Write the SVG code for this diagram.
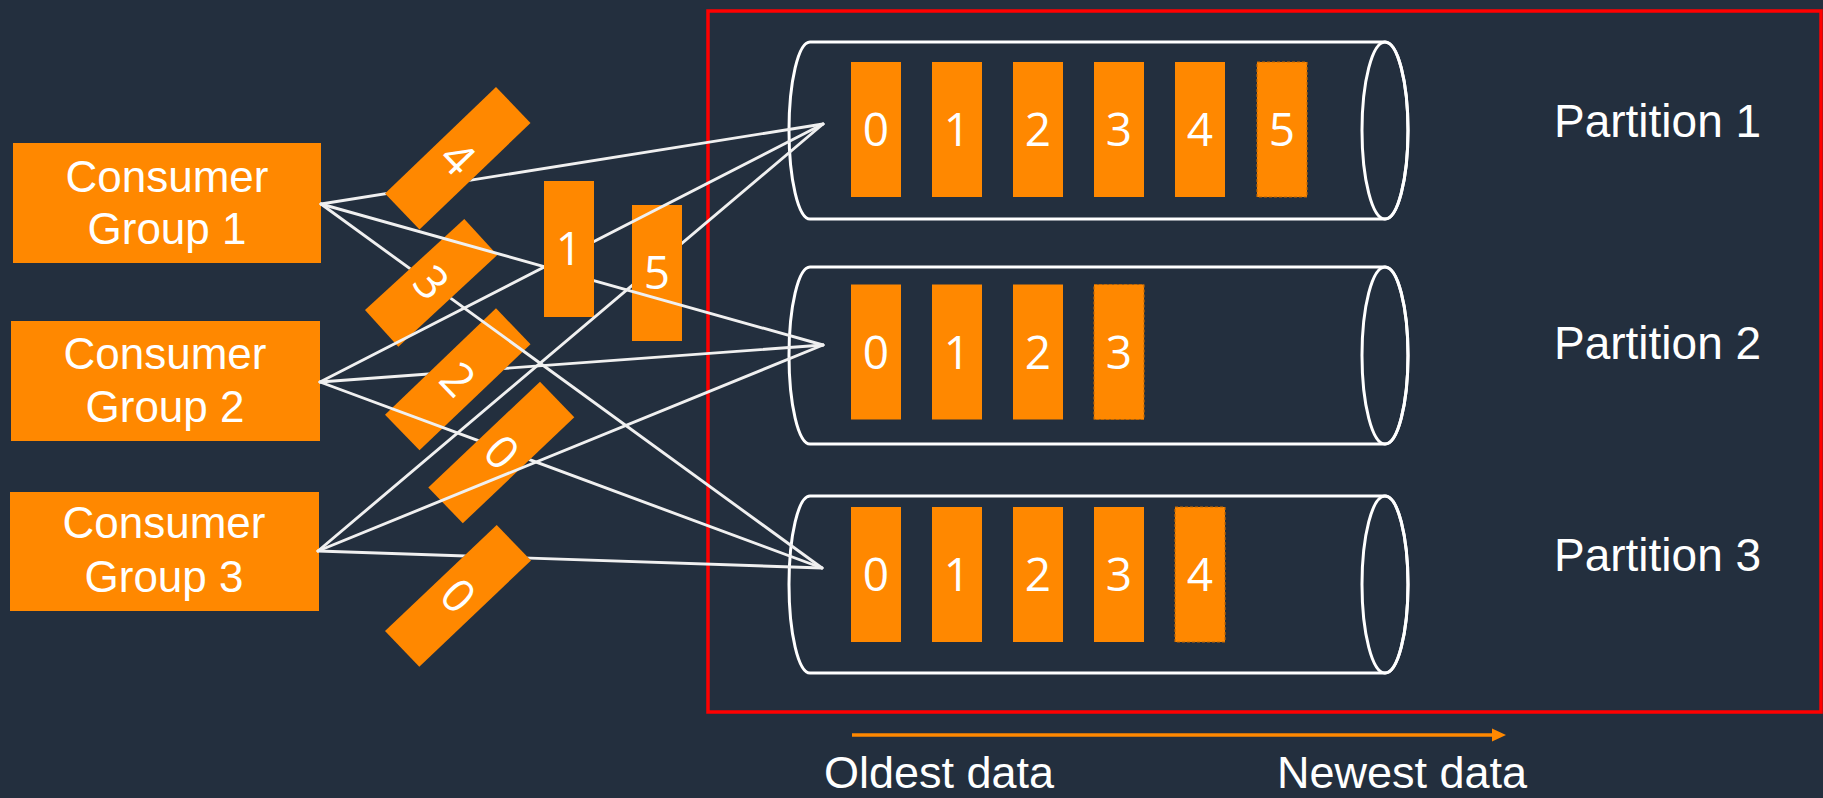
<svg xmlns="http://www.w3.org/2000/svg" width="1823" height="798" viewBox="0 0 1823 798">
<style>
.or{fill:#ff8800}
.nw{fill:#ff8800;stroke:#c46800;stroke-width:1.2;stroke-dasharray:3 2}
.cyl{fill:none;stroke:#ffffff;stroke-width:3}
.ln{stroke:#f0f0f0;stroke-width:2.9;fill:none;stroke-linecap:round}
.t{fill:#ffffff}
.w{font-family:"Liberation Sans",Arial,sans-serif}
.p{font-size:46px}
.b{font-size:45px}
.d{font-family:"Open Sans","Liberation Sans",sans-serif;font-size:46px;text-anchor:middle}
.c{font-family:"Liberation Sans",Arial,sans-serif;font-size:44px;text-anchor:middle}
</style>
<defs>
<mask id="mB4" maskUnits="userSpaceOnUse" x="0" y="0" width="1823" height="798"><rect width="1823" height="798" fill="#fff"/><polygon points="496,87 530.5,123 419.5,229.5 385,193.5" fill="#000"/></mask>
<mask id="mB3" maskUnits="userSpaceOnUse" x="0" y="0" width="1823" height="798"><rect width="1823" height="798" fill="#fff"/><polygon points="464.3,219 497.3,255 398.3,346.7 365,310" fill="#000"/></mask>
<mask id="mB2" maskUnits="userSpaceOnUse" x="0" y="0" width="1823" height="798"><rect width="1823" height="798" fill="#fff"/><polygon points="496,308.3 530.5,344.3 419.5,450.3 385,414.8" fill="#000"/></mask>
<mask id="mB0a" maskUnits="userSpaceOnUse" x="0" y="0" width="1823" height="798"><rect width="1823" height="798" fill="#fff"/><polygon points="540,381.7 574.3,417.3 462.8,523.3 428.3,487.4" fill="#000"/></mask>
<mask id="mB0b" maskUnits="userSpaceOnUse" x="0" y="0" width="1823" height="798"><rect width="1823" height="798" fill="#fff"/><polygon points="496.7,525 531,560.5 419.3,666.7 385,631" fill="#000"/></mask>
<mask id="mB1" maskUnits="userSpaceOnUse" x="0" y="0" width="1823" height="798"><rect width="1823" height="798" fill="#fff"/><rect x="544" y="181" width="50" height="136" fill="#000"/></mask>
<mask id="mB5" maskUnits="userSpaceOnUse" x="0" y="0" width="1823" height="798"><rect width="1823" height="798" fill="#fff"/><rect x="632" y="205" width="50" height="136" fill="#000"/></mask>
</defs>
<rect width="1823" height="798" fill="#232f3e"/>

<g id="stream-frame">
<rect x="708" y="11" width="1113" height="701" fill="none" stroke="#ff0000" stroke-width="3.5"/>
</g>

<g id="partition-1">
<path class="cyl" d="M810,42 H1385 A23,88.5 0 0 1 1385,219 H810 A21,88.5 0 0 1 810,42 Z"/>
<ellipse class="cyl" cx="1385" cy="130.5" rx="23" ry="88.5"/>
<rect class="or" x="851" y="62" width="50" height="135"/>
<rect class="or" x="932" y="62" width="50" height="135"/>
<rect class="or" x="1013" y="62" width="50" height="135"/>
<rect class="or" x="1094" y="62" width="50" height="135"/>
<rect class="or" x="1175" y="62" width="50" height="135"/>
<rect class="nw" x="1257" y="62" width="50" height="135"/>
<text class="t d" x="876" y="146">0</text>
<text class="t d" x="957" y="146">1</text>
<text class="t d" x="1038" y="146">2</text>
<text class="t d" x="1119" y="146">3</text>
<text class="t d" x="1200" y="146">4</text>
<text class="t d" x="1282" y="146">5</text>
<text class="t w p" x="1554" y="137">Partition 1</text>
</g>

<g id="partition-2">
<path class="cyl" d="M810,267 H1385 A23,88.5 0 0 1 1385,444 H810 A21,88.5 0 0 1 810,267 Z"/>
<ellipse class="cyl" cx="1385" cy="355.5" rx="23" ry="88.5"/>
<rect class="or" x="851" y="284.5" width="50" height="135"/>
<rect class="or" x="932" y="284.5" width="50" height="135"/>
<rect class="or" x="1013" y="284.5" width="50" height="135"/>
<rect class="nw" x="1094" y="284.5" width="50" height="135"/>
<text class="t d" x="876" y="368.5">0</text>
<text class="t d" x="957" y="368.5">1</text>
<text class="t d" x="1038" y="368.5">2</text>
<text class="t d" x="1119" y="368.5">3</text>
<text class="t w p" x="1554" y="359">Partition 2</text>
</g>

<g id="partition-3">
<path class="cyl" d="M810,496 H1385 A23,88.5 0 0 1 1385,673 H810 A21,88.5 0 0 1 810,496 Z"/>
<ellipse class="cyl" cx="1385" cy="584.5" rx="23" ry="88.5"/>
<rect class="or" x="851" y="507" width="50" height="135"/>
<rect class="or" x="932" y="507" width="50" height="135"/>
<rect class="or" x="1013" y="507" width="50" height="135"/>
<rect class="or" x="1094" y="507" width="50" height="135"/>
<rect class="nw" x="1175" y="507" width="50" height="135"/>
<text class="t d" x="876" y="591">0</text>
<text class="t d" x="957" y="591">1</text>
<text class="t d" x="1038" y="591">2</text>
<text class="t d" x="1119" y="591">3</text>
<text class="t d" x="1200" y="591">4</text>
<text class="t w p" x="1554" y="571">Partition 3</text>
</g>

<g id="consumer-group-1">
<rect class="or" x="13" y="143" width="308" height="120"/>
<text class="t c" x="167" y="192">Consumer</text>
<text class="t c" x="167" y="244">Group 1</text>
</g>
<g id="consumer-group-2">
<rect class="or" x="11" y="321" width="309" height="120"/>
<text class="t c" x="165" y="369">Consumer</text>
<text class="t c" x="165" y="422">Group 2</text>
</g>
<g id="consumer-group-3">
<rect class="or" x="10" y="492" width="309" height="119"/>
<text class="t c" x="164" y="538">Consumer</text>
<text class="t c" x="164" y="592">Group 3</text>
</g>

<g id="offset-4">
<polygon class="or" points="496,87 530.5,123 419.5,229.5 385,193.5"/>
<text class="t d" x="457.75" y="174.25" transform="rotate(46.2 457.75 158.25)">4</text>
</g>
<g id="offset-3">
<polygon class="or" points="464.3,219 497.3,255 398.3,346.7 365,310"/>
<text class="t d" x="431.2" y="298.7" transform="rotate(47 431.2 282.7)">3</text>
</g>
<g id="offset-2">
<polygon class="or" points="496,308.3 530.5,344.3 419.5,450.3 385,414.8"/>
<text class="t d" x="457.75" y="395.4" transform="rotate(46.2 457.75 379.4)">2</text>
</g>
<g id="offset-0a">
<polygon class="or" points="540,381.7 574.3,417.3 462.8,523.3 428.3,487.4"/>
<text class="t d" x="501.35" y="468.4" transform="rotate(46.2 501.35 452.4)">0</text>
</g>
<g id="offset-0b">
<polygon class="or" points="496.7,525 531,560.5 419.3,666.7 385,631"/>
<text class="t d" x="458" y="611.8" transform="rotate(46.2 458 595.8)">0</text>
</g>
<g id="offset-1">
<rect class="or" x="544" y="181" width="50" height="136"/>
<text class="t d" x="569" y="265">1</text>
</g>
<g id="offset-5">
<rect class="or" x="632" y="205" width="50" height="136"/>
<text class="t d" x="657" y="289">5</text>
</g>

<g id="connectors">
<line class="ln" x1="321" y1="204" x2="823" y2="124" mask="url(#mB4)"/>
<line class="ln" x1="321" y1="204" x2="823" y2="345" mask="url(#mB1)"/>
<line class="ln" x1="321" y1="204" x2="822" y2="568" mask="url(#mB3)"/>
<line class="ln" x1="320" y1="382" x2="823" y2="124" mask="url(#mB1)"/>
<line class="ln" x1="320" y1="382" x2="823" y2="345" mask="url(#mB2)"/>
<line class="ln" x1="320" y1="382" x2="822" y2="568" mask="url(#mB0a)"/>
<line class="ln" x1="318" y1="551" x2="823" y2="124" mask="url(#mB5)"/>
<line class="ln" x1="318" y1="551" x2="823" y2="345"/>
<line class="ln" x1="318" y1="551" x2="822" y2="568" mask="url(#mB0b)"/>
</g>

<g id="time-axis">
<line x1="852" y1="735" x2="1494" y2="735" stroke="#ff8800" stroke-width="3.5"/>
<polygon points="1492,728.5 1506,735 1492,741.5" fill="#ff8800"/>
<text class="t w b" x="824" y="788">Oldest data</text>
<text class="t w b" x="1277" y="788">Newest data</text>
</g>
</svg>
